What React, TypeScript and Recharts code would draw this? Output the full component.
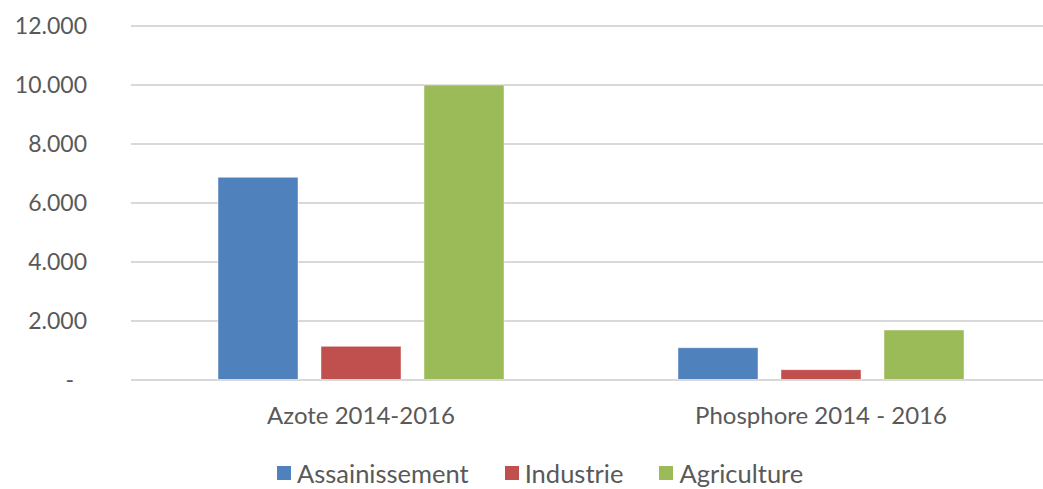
import React from "react";
import { Bar, BarChart, CartesianGrid, Legend, XAxis, YAxis } from "recharts";

const categories = ["Azote 2014-2016", "Phosphore 2014 - 2016"];
const assainissement = [6870, 1095];
const industrie = [1140, 350];
const agriculture = [10000, 1695];
const yTicks = [0, 2000, 4000, 6000, 8000, 10000, 12000];

const series = [
    { key: "assainissement", name: "Assainissement", color: "#4F81BD" },
    { key: "industrie", name: "Industrie", color: "#C0504D" },
    { key: "agriculture", name: "Agriculture", color: "#9BBB59" },
];

const FONT = "Lato, 'Open Sans', sans-serif";
const TEXT = "#595959";

function fmt(v: number): string {
    if (v === 0) return "-";
    return String(v).replace(/\B(?=(\d{3})+(?!\d))/g, ".");
}

function YTick(props: any) {
    const { x, y, payload } = props;
    const zero = payload.value === 0;
    return (
        <text x={zero ? x - 13 : x} y={y} dy="0.36em" textAnchor="end" fill={TEXT} fontSize={23} fontFamily={FONT}>
            {fmt(payload.value)}
        </text>
    );
}

function LegendContent() {
    return (
        <div style={{ display: "flex", alignItems: "center", paddingLeft: 277, paddingTop: 18, fontFamily: FONT, fontSize: 25.5, color: TEXT }}>
            {series.map((s) => (
                <div key={s.key} style={{ display: "flex", alignItems: "center", marginRight: 36 }}>
                    <span style={{ display: "inline-block", width: 14, height: 14, background: s.color, marginRight: 6 }} />
                    <span>{s.name}</span>
                </div>
            ))}
        </div>
    );
}

export default function App() {
    const data = categories.map((c, i) => ({
        name: c,
        assainissement: assainissement[i],
        industrie: industrie[i],
        agriculture: agriculture[i],
    }));

    return (
        <div style={{ position: "absolute", left: 0, top: 0, width: 1043, height: 489, overflow: "hidden", background: "#fff" }}>
            <style>{"html, body { overflow: hidden; }"}</style>
            <BarChart
                width={1080}
                height={489}
                data={data}
                margin={{ top: 26, right: 29, left: 0, bottom: 0 }}
                barGap={23}
                barCategoryGap={87}
            >
                <CartesianGrid horizontal vertical={false} stroke="#D9D9D9" strokeWidth={2} />
                <XAxis
                    dataKey="name"
                    height={60}
                    tickLine={false}
                    tickSize={0}
                    tickMargin={27}
                    axisLine={{ stroke: "#D9D9D9", strokeWidth: 2 }}
                    tick={{ fill: TEXT, fontSize: 24, fontFamily: FONT }}
                />
                <YAxis
                    width={131}
                    domain={[0, 12000]}
                    ticks={yTicks}
                    axisLine={false}
                    tickLine={false}
                    tickSize={0}
                    tickMargin={44}
                    tick={<YTick />}
                />
                <Legend verticalAlign="bottom" height={49} content={<LegendContent />} />
                {series.map((s) => (
                    <Bar
                        key={s.key}
                        dataKey={s.key}
                        name={s.name}
                        fill={s.color}
                        stroke="rgba(255,255,255,0.45)"
                        strokeWidth={1}
                        isAnimationActive={false}
                    />
                ))}
            </BarChart>
        </div>
    );
}
